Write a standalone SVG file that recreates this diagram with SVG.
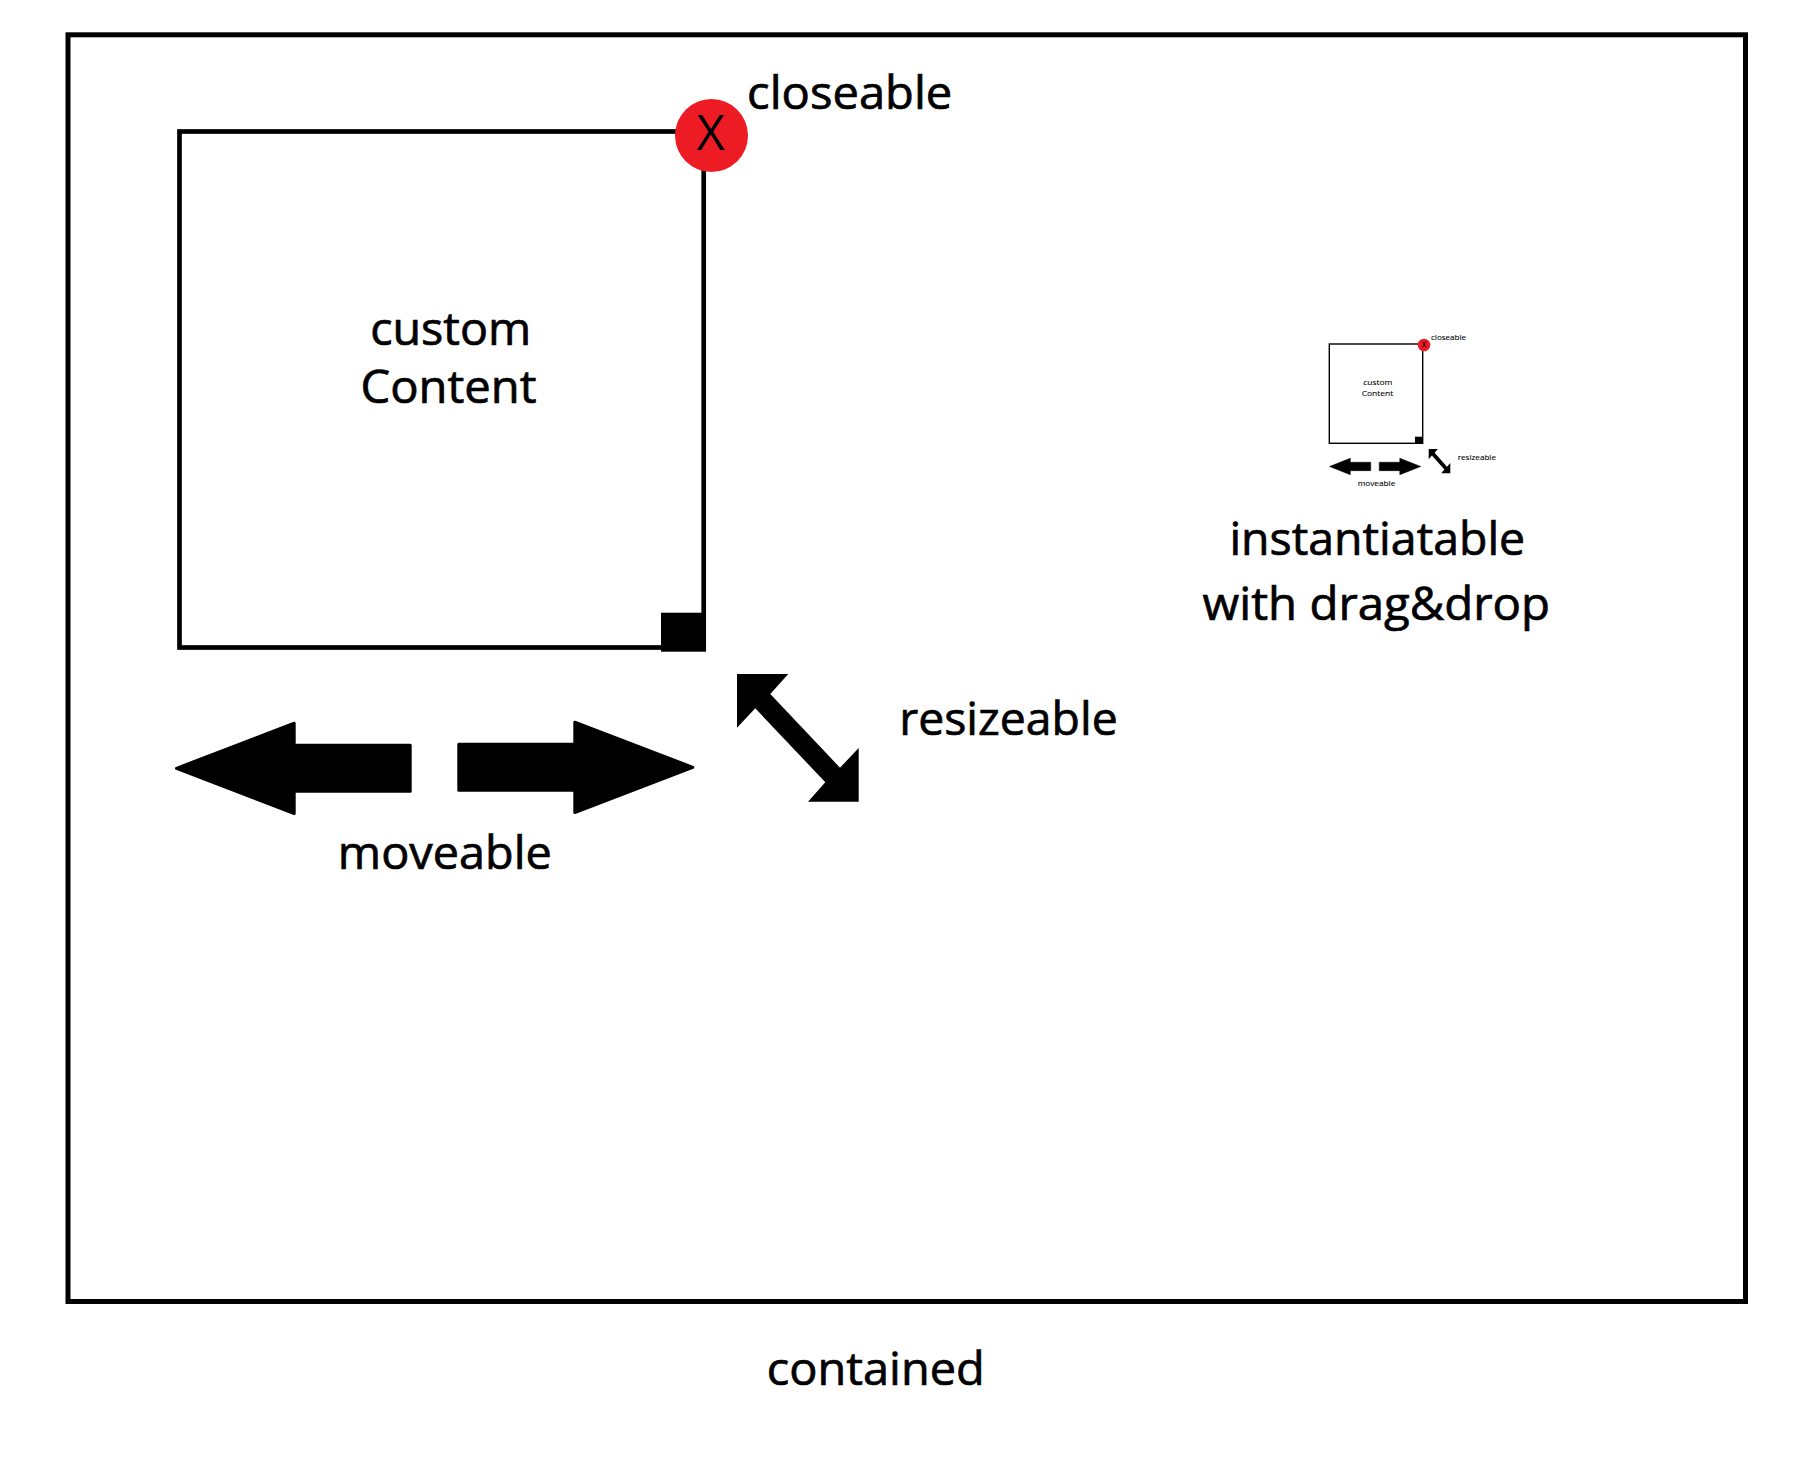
<svg xmlns="http://www.w3.org/2000/svg" xmlns:xlink="http://www.w3.org/1999/xlink" width="1818" height="1470" viewBox="0 0 1818 1470">
<style>
text{font-family:"Open Sans","Noto Sans","Liberation Sans",sans-serif;fill:#000}
.l{font-size:46px;stroke:#000;stroke-width:.7}
.s{font-size:8px;stroke:#000;stroke-width:.1}
.box{fill:#fff;stroke:#000}
.red{fill:#ed1c24}
.arr{fill:#000;stroke:#000;stroke-width:3;stroke-linejoin:round}
</style>
<defs>
<polygon id="arrowL" class="arr" points="176.5,768.3 294.2,723.2 294.2,745.2 410.2,745.2 410.2,791.2 294.2,791.2 294.2,813.5"/>
<polygon id="arrowR" class="arr" points="692.8,767.3 574.8,722.2 574.8,744.2 458.8,744.2 458.8,790.2 574.8,790.2 574.8,812.5"/>
<polygon id="diag" fill="#000" points="737,674 788.3,674 770.3,694 840,767.7 858.7,748 858.7,801.7 808,801.7 825.3,782.3 755.3,708.3 737,727.7"/>
</defs>
<rect width="1818" height="1470" fill="#fff"/>
<g id="contained">
<rect class="box" x="68" y="34.8" width="1677.5" height="1266.7" stroke-width="5"/>
<text class="l" x="766.8" y="1385" textLength="218" lengthAdjust="spacingAndGlyphs">contained</text>
</g>
<g id="window">
<rect class="box" x="179.5" y="131.5" width="524.2" height="516" stroke-width="4.7"/>
<rect x="661" y="612.7" width="45" height="39"/>
<circle class="red" cx="711.5" cy="135.5" r="36.5"/>
<text x="711" y="150" font-size="49" text-anchor="middle">X</text>
<text class="l" x="747.1" y="109" textLength="205.2" lengthAdjust="spacingAndGlyphs">closeable</text>
<text class="l" x="370.2" y="345" textLength="161" lengthAdjust="spacingAndGlyphs">custom</text>
<text class="l" x="360.5" y="402.7" textLength="176" lengthAdjust="spacingAndGlyphs">Content</text>
</g>
<g id="move">
<use xlink:href="#arrowL" href="#arrowL"/>
<use xlink:href="#arrowR" href="#arrowR"/>
<text class="l" x="337.8" y="869" textLength="214" lengthAdjust="spacingAndGlyphs">moveable</text>
</g>
<g id="resize">
<use xlink:href="#diag" href="#diag"/>
<text class="l" x="899.2" y="734.5" textLength="218.5" lengthAdjust="spacingAndGlyphs">resizeable</text>
</g>
<g id="instance">
<rect class="box" x="1329.3" y="344" width="93.4" height="99.3" stroke-width="1.4"/>
<rect x="1415" y="436.7" width="8" height="7.3"/>
<circle class="red" cx="1424" cy="345" r="6.3"/>
<text x="1424" y="348" font-size="8.5" text-anchor="middle">X</text>
<text class="s" x="1431" y="340" textLength="35" lengthAdjust="spacingAndGlyphs">closeable</text>
<text class="s" x="1363.3" y="385" textLength="29" lengthAdjust="spacingAndGlyphs">custom</text>
<text class="s" x="1361.7" y="396" textLength="31.6" lengthAdjust="spacingAndGlyphs">Content</text>
<use xlink:href="#arrowL" href="#arrowL" transform="translate(1329.3 458) scale(.176 .182) translate(-175 -721.7)"/>
<use xlink:href="#arrowR" href="#arrowR" transform="translate(1379 458) scale(.177 .182) translate(-457.3 -720.7)"/>
<use xlink:href="#diag" href="#diag" transform="translate(1428.7 449) scale(.1775 .19) translate(-737 -674)"/>
<text class="s" x="1457.7" y="460" textLength="38.3" lengthAdjust="spacingAndGlyphs">resizeable</text>
<text class="s" x="1357.7" y="485.5" textLength="37.6" lengthAdjust="spacingAndGlyphs">moveable</text>
<text class="l" x="1229.4" y="555" textLength="295.8" lengthAdjust="spacingAndGlyphs">instantiatable</text>
<text class="l" x="1202.6" y="620" textLength="347.5" lengthAdjust="spacingAndGlyphs">with drag&amp;drop</text>
</g>
</svg>
